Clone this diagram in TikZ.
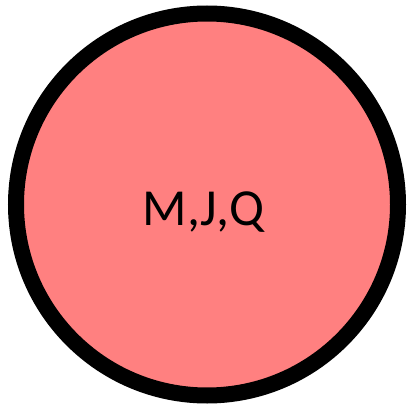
\documentclass[tikz,border=0pt]{standalone}
\usepackage{fontspec}
\setmainfont{Carlito}
\definecolor{salmon}{HTML}{FF8080}
\begin{document}
\begin{tikzpicture}[x=1pt,y=1pt,
  ring/.style={circle,draw=black,fill=salmon,line width=16pt,minimum size=382pt,inner sep=0pt},
  lbl/.style={font=\fontsize{52}{62}\selectfont,inner sep=0pt,anchor=base}]
\useasboundingbox (0,0) rectangle (407,405);
\node[ring] (c) at (207,200.5) {};
\node[lbl] (t) at (203.5,180) {M,J,Q};
\end{tikzpicture}
\end{document}
